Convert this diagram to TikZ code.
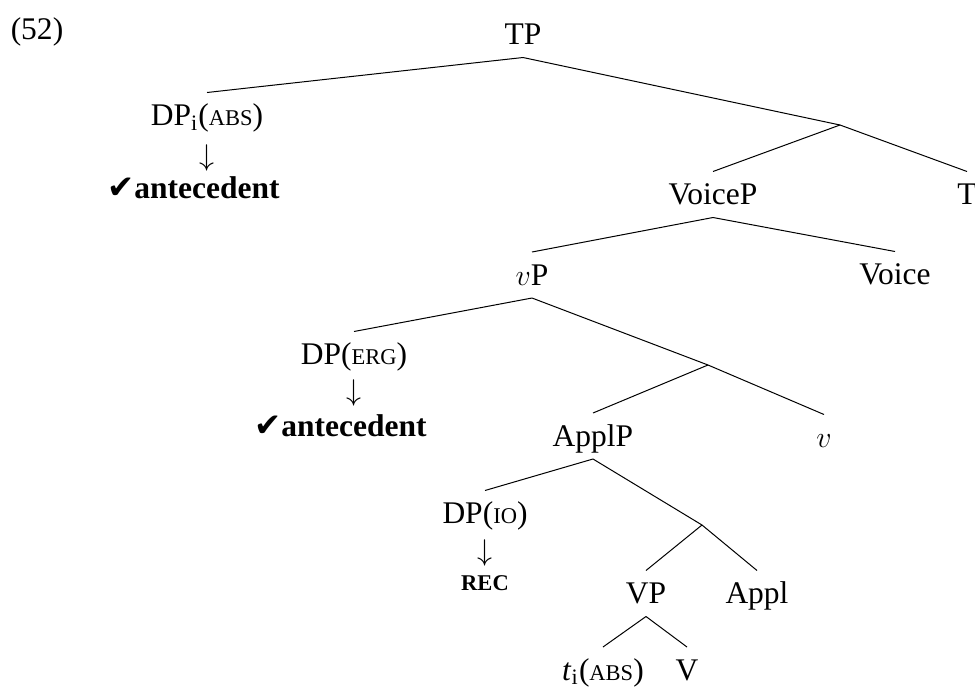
\documentclass[tikz,border=0pt]{standalone}
\usepackage{fontspec}
\setmainfont{Liberation Serif}
\newfontfamily\checkfont{DejaVu Sans}
\usepackage{amsmath}
\usepackage{xcolor}
\newcommand{\fakesc}[1]{{\fontsize{9}{10}\selectfont #1}}
\newcommand{\okmark}{\llap{{\checkfont\fontsize{13}{14}\selectfont ✔}}}
\begin{document}
\begin{tikzpicture}[x=0.4pt,y=-0.4pt,font=\fontsize{12.6}{14}\selectfont]
					\tikzstyle{cat} = [text height=8pt,text depth=0pt,inner ysep=5pt,inner xsep=0pt]
					\tikzstyle{note} = [inner sep=0pt]
					\tikzstyle{edge} = [-]
					\useasboundingbox (0,0) rectangle (975,688);
					\node[note] (ex) at (37,32) {(52)};
					\node[cat] (n1) at (523,34.5) {TP};
					\node[cat] (n2) at (207,115.5) {DP\textsubscript{i}(\fakesc{ABS})};
					\node[note] (a2) at (207,158) {$\downarrow$};
					\node[note] (c2) at (207,188) {\textbf{\okmark antecedent}};
					\coordinate (b1) at (840,125);
					\node[cat] (n3) at (713,194.5) {VoiceP};
					\node[cat] (n4) at (967,194.5) {T};
					\node[cat] (n5) at (532,275) {$v$P};
					\node[cat] (n6) at (895,274.5) {Voice};
					\node[cat] (n7) at (354,354.5) {DP(\fakesc{ERG})};
					\node[note] (a7) at (354,393) {$\downarrow$};
					\node[note] (c7) at (354,426) {\textbf{\okmark antecedent}};
					\coordinate (b2) at (708,365);
					\node[cat] (n8) at (593,436) {ApplP};
					\node[cat] (n9) at (824,437.5) {$v$};
					\node[cat] (n10) at (485,513.5) {DP(\fakesc{IO})};
					\node[note] (a10) at (485,553) {$\downarrow$};
					\node[note] (c10) at (485,583) {\textbf{\fontsize{9}{10}\selectfont REC}};
					\coordinate (b3) at (702,525);
					\node[cat] (n11) at (646,593.5) {VP};
					\node[cat] (n12) at (757,593.5) {Appl};
					\node[cat] (n13) at (603,670) {\textit{t}\textsubscript{i}(\fakesc{ABS})};
					\node[cat] (n14) at (687,670) {V};
					\draw[edge] (n1.south)--(n2.north);
					\draw[edge] (n1.south)--(b1);
					\draw[edge] (b1)--(n3.north);
					\draw[edge] (b1)--(n4.north);
					\draw[edge] (n3.south)--(n5.north);
					\draw[edge] (n3.south)--(n6.north);
					\draw[edge] (n5.south)--(n7.north);
					\draw[edge] (n5.south)--(b2);
					\draw[edge] (b2)--(n8.north);
					\draw[edge] (b2)--(n9.north);
					\draw[edge] (n8.south)--(n10.north);
					\draw[edge] (n8.south)--(b3);
					\draw[edge] (b3)--(n11.north);
					\draw[edge] (b3)--(n12.north);
					\draw[edge] (n11.south)--(n13.north);
					\draw[edge] (n11.south)--(n14.north);
					\end{tikzpicture}
\end{document}
